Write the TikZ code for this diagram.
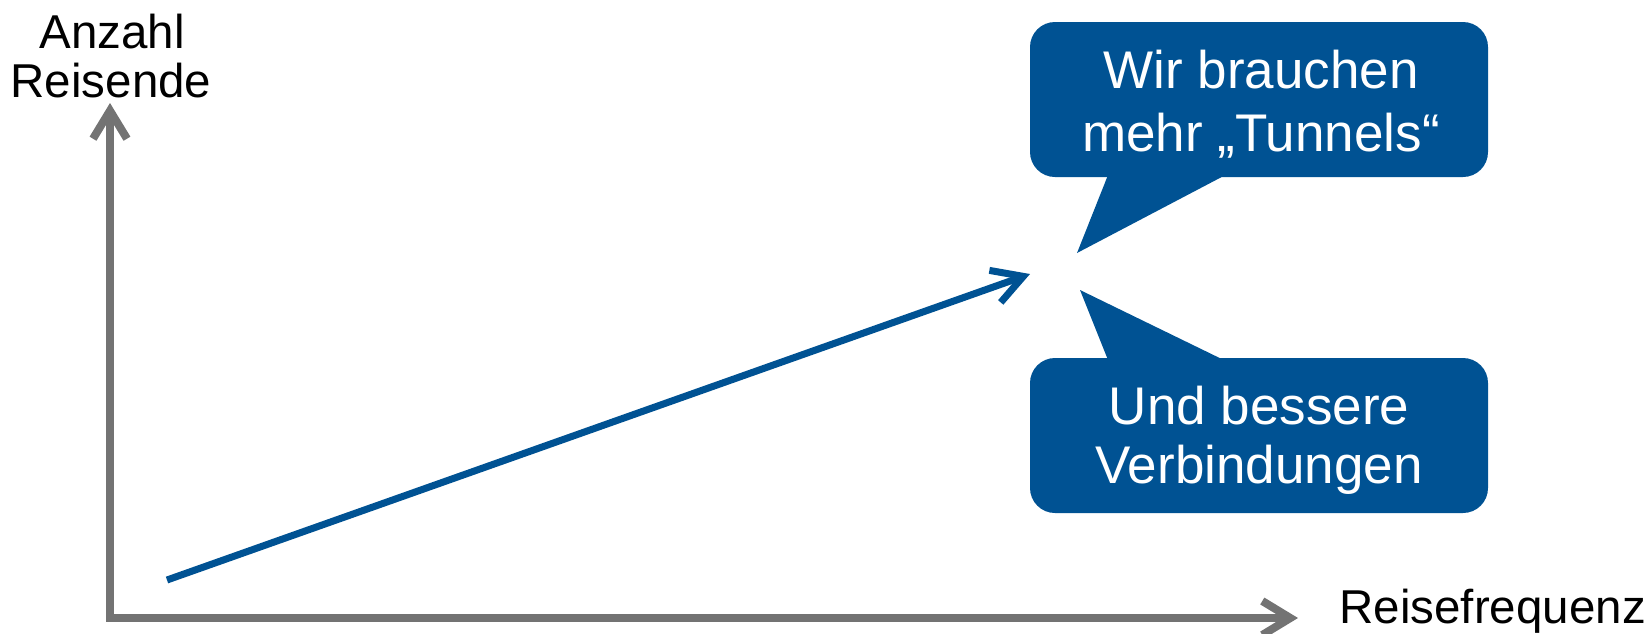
\documentclass[tikz,border=0pt]{standalone}
\usepackage{fontspec}
\setmainfont{Liberation Sans}
\usetikzlibrary{arrows.meta}
\definecolor{cblue}{RGB}{0,82,147}
\definecolor{cgray}{RGB}{115,115,115}
\begin{document}
\begin{tikzpicture}[x=1pt,y=-1pt,
  axisline/.style={draw=cgray, line width=8pt, line join=miter,
    arrows={Straight Barb[length=28pt,width=34pt]-Straight Barb[length=28pt,width=34pt]}},
  trend/.style={draw=cblue, line width=7pt,
    arrows={-Straight Barb[length=30pt,width=34pt]}},
  bubble/.style={fill=cblue, rounded corners=25pt, minimum width=458pt, minimum height=155pt, inner sep=0pt},
  btext/.style={text=white, font=\fontsize{53}{62}\selectfont, anchor=base, inner sep=0pt},
  ltext/.style={text=black, font=\fontsize{47.5}{49}\selectfont, anchor=base, inner sep=0pt}
]
\useasboundingbox (0,0) rectangle (1648,633);

% callout bubbles
\node[bubble] (b1) at (1259,99.5) {};
\node[bubble] (b2) at (1259,435.5) {};
\fill[cblue] (1110,170) -- (1077,253) -- (1235,170) -- cycle;
\fill[cblue] (1110,365) -- (1080,290) -- (1234,365) -- cycle;

\node[btext] (t1a) at (1261,88) {Wir brauchen};
\node[btext] (t1b) at (1261,151) {mehr „Tunnels“};
\node[btext] (t2a) at (1259,424) {Und bessere};
\node[btext] (t2b) at (1259,483) {Verbindungen};

% axes
\coordinate (O) at (110,618);
\coordinate (ytip) at (110,103);
\coordinate (xtip) at (1298,618);
\draw[axisline] (ytip) -- (O) -- (xtip);

% axis labels
\node[ltext] (ya) at (112,48) {Anzahl};
\node[ltext] (yb) at (111,97) {Reisende};
\node[ltext, anchor=base east] (xl) at (1646,623) {Reisefrequenz};

% trend arrow
\coordinate (s) at (167,580);
\coordinate (e) at (1030,274);
\draw[trend] (s) -- (e);
\end{tikzpicture}
\end{document}
